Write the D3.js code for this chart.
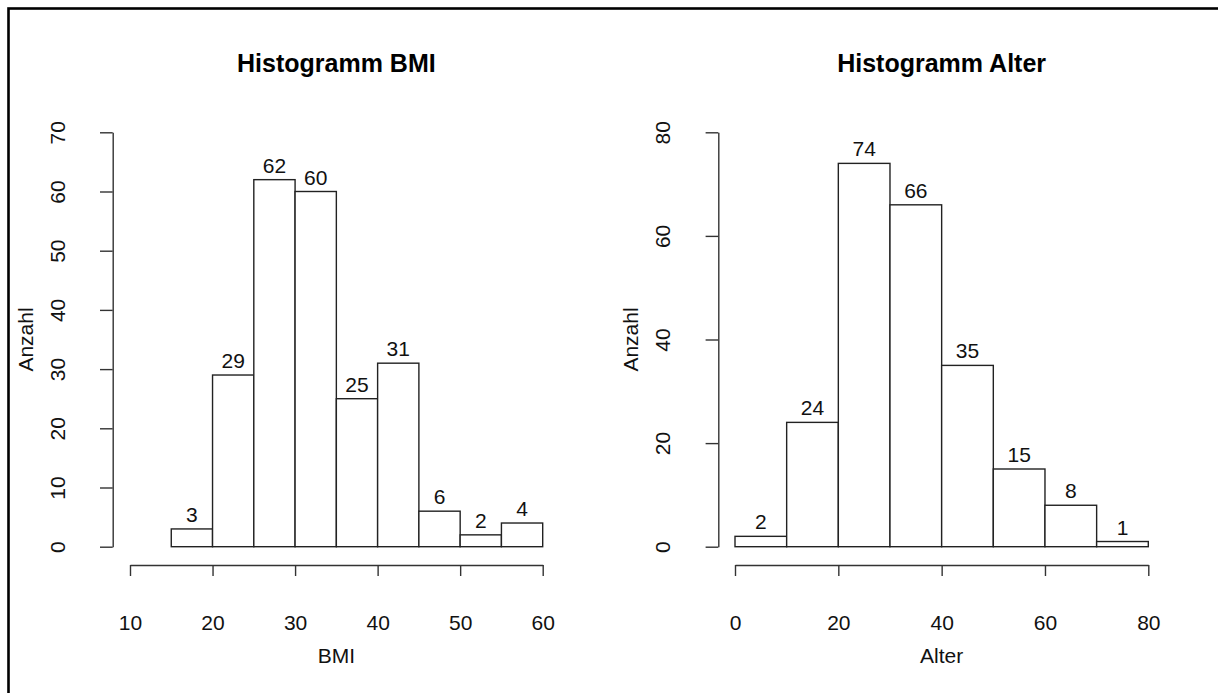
<!DOCTYPE html>
<html>
<head>
<meta charset="utf-8">
<script src="https://cdn.jsdelivr.net/npm/d3@7"></script>
<style>
  body { margin: 0; background: #fff; }
  svg { display: block; font-family: "Liberation Sans", Arial, sans-serif; }
</style>
</head>
<body>
<svg width="1218" height="693"></svg>
<script>
// Histogramm BMI
var bmiBreaks = [15, 20, 25, 30, 35, 40, 45, 50, 55, 60];
var bmiCounts = [3, 29, 62, 60, 25, 31, 6, 2, 4];
var bmiXTicks = [10, 20, 30, 40, 50, 60];
var bmiYTicks = [0, 10, 20, 30, 40, 50, 60, 70];

// Histogramm Alter
var alterBreaks = [0, 10, 20, 30, 40, 50, 60, 70, 80];
var alterCounts = [2, 24, 74, 66, 35, 15, 8, 1];
var alterXTicks = [0, 20, 40, 60, 80];
var alterYTicks = [0, 20, 40, 60, 80];

var svg = d3.select("svg");

// frame (only top and left edge are visible in the crop)
svg.append("rect")
  .attr("x", 8.5).attr("y", 8.5)
  .attr("width", 1240).attr("height", 720)
  .attr("fill", "none").attr("stroke", "#000").attr("stroke-width", 2.6);

var panels = [
  {title: "Histogramm BMI", xlab: "BMI", breaks: bmiBreaks, counts: bmiCounts,
   xTicks: bmiXTicks, yTicks: bmiYTicks, xDomain: [10, 60], yDomain: [0, 70],
   x0: 130, x1: 542.7, yAxisX: 112.7},
  {title: "Histogramm Alter", xlab: "Alter", breaks: alterBreaks, counts: alterCounts,
   xTicks: alterXTicks, yTicks: alterYTicks, xDomain: [0, 80], yDomain: [0, 80],
   x0: 735, x1: 1148.3, yAxisX: 718.3}
];

var yBottom = 546.7, yTop = 132.3, xAxisY = 565;

panels.forEach(function(p) {
  var x = d3.scaleLinear().domain(p.xDomain).range([p.x0, p.x1]);
  var y = d3.scaleLinear().domain(p.yDomain).range([yBottom, yTop]);
  var g = svg.append("g");

  var bins = p.counts.map(function(c, i) {
    return {lo: p.breaks[i], hi: p.breaks[i + 1], n: c};
  });

  g.selectAll("rect.bar")
    .data(bins)
    .enter().append("rect")
      .attr("class", "bar")
      .attr("x", function(d) { return x(d.lo); })
      .attr("y", function(d) { return y(d.n); })
      .attr("width", function(d) { return x(d.hi) - x(d.lo); })
      .attr("height", function(d) { return y(0) - y(d.n); })
      .attr("fill", "#fff")
      .attr("stroke", "#222")
      .attr("stroke-width", 1.4);

  g.selectAll("text.lab")
    .data(bins)
    .enter().append("text")
      .attr("class", "lab")
      .attr("x", function(d) { return x((d.lo + d.hi) / 2); })
      .attr("y", function(d) { return y(d.n) - 7; })
      .attr("text-anchor", "middle")
      .attr("font-size", 21)
      .attr("fill", "#111")
      .text(function(d) { return d.n; });

  // x axis
  var xa = g.append("g")
    .attr("transform", "translate(0," + xAxisY + ")")
    .call(d3.axisBottom(x).tickValues(p.xTicks).tickSize(11).tickSizeOuter(0));
  xa.select(".domain").attr("stroke", "#333").attr("stroke-width", 1.4);
  xa.selectAll(".tick line").attr("stroke", "#333").attr("stroke-width", 1.4);
  xa.selectAll(".tick text")
    .attr("y", 65).attr("dy", 0)
    .attr("font-size", 21).attr("font-family", null).attr("fill", "#111");
  xa.attr("font-family", null).attr("font-size", null);

  // y axis
  var ya = g.append("g")
    .attr("transform", "translate(" + p.yAxisX + ",0)")
    .call(d3.axisLeft(y).tickValues(p.yTicks).tickSize(12.7).tickSizeOuter(0));
  ya.select(".domain").attr("stroke", "#333").attr("stroke-width", 1.4);
  ya.selectAll(".tick line").attr("stroke", "#333").attr("stroke-width", 1.4);
  ya.selectAll(".tick text")
    .attr("x", null).attr("dy", 0)
    .attr("transform", "translate(-48,0) rotate(-90)")
    .attr("text-anchor", "middle")
    .attr("font-size", 21).attr("fill", "#111");
  ya.attr("font-family", null).attr("font-size", null);

  // titles and axis labels
  var cx = x((p.xDomain[0] + p.xDomain[1]) / 2);
  g.append("text")
    .attr("x", cx).attr("y", 72)
    .attr("text-anchor", "middle")
    .attr("font-size", 25).attr("font-weight", "bold")
    .text(p.title);

  g.append("text")
    .attr("x", cx).attr("y", 663)
    .attr("text-anchor", "middle")
    .attr("font-size", 21).attr("fill", "#111")
    .text(p.xlab);

  g.append("text")
    .attr("transform", "translate(" + (p.yAxisX - 80) + "," + ((yBottom + yTop) / 2) + ") rotate(-90)")
    .attr("text-anchor", "middle")
    .attr("font-size", 21).attr("fill", "#111")
    .text("Anzahl");
});
</script>
</body>
</html>
